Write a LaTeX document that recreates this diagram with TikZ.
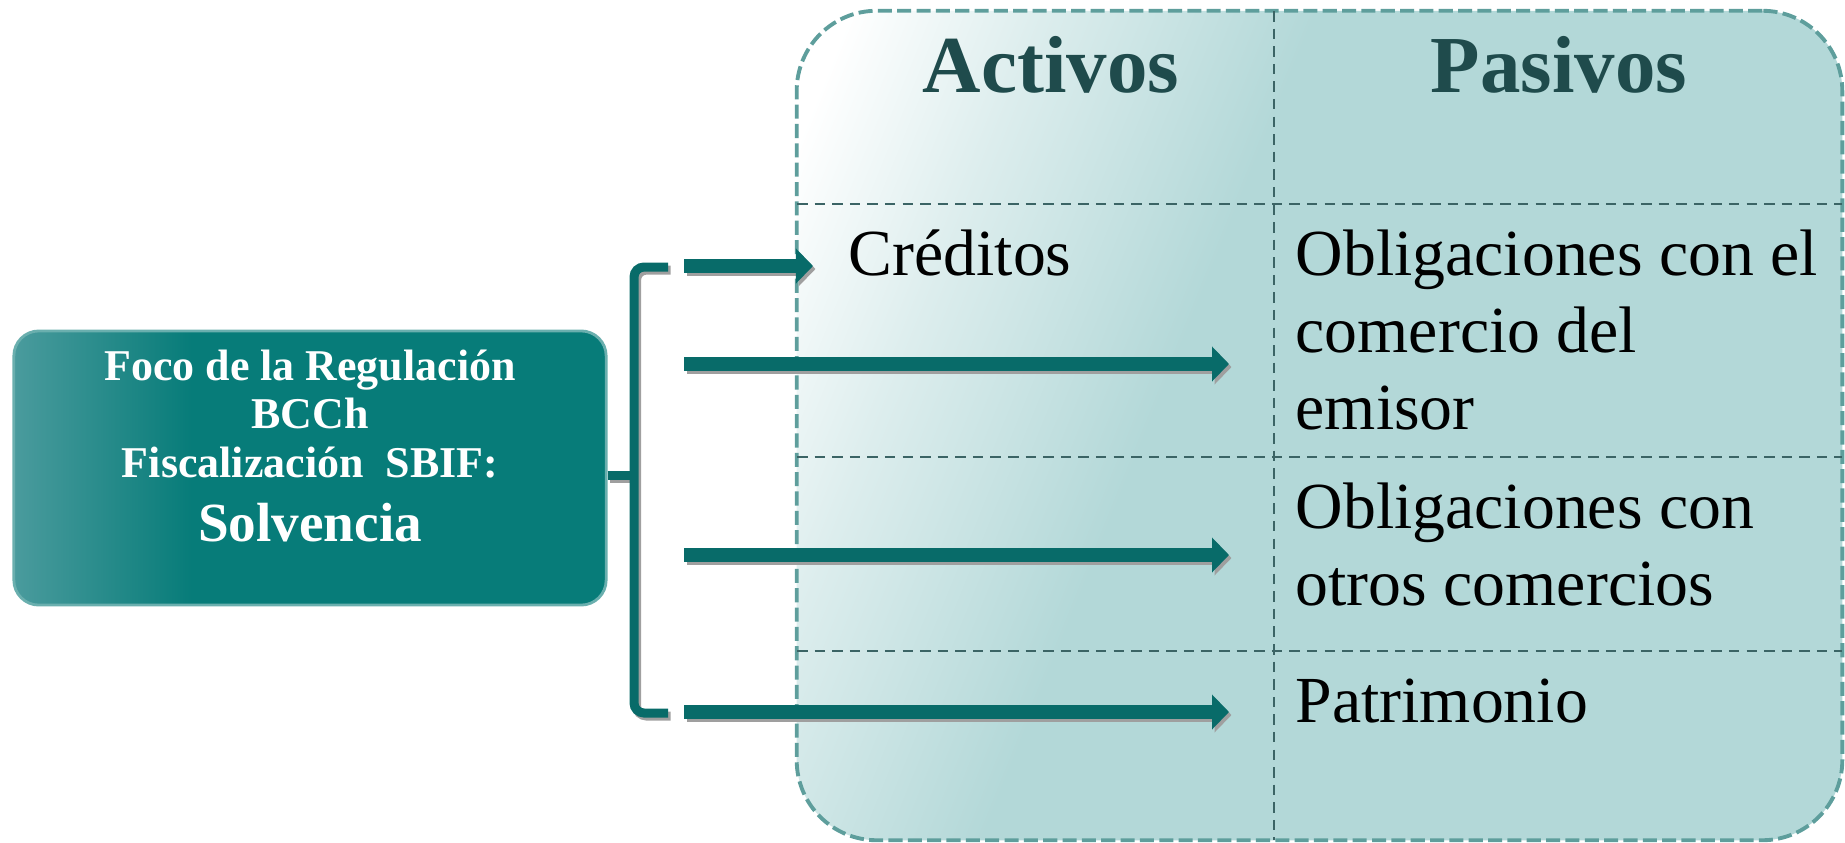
\documentclass[tikz,border=0pt]{standalone}
\usepackage{fontspec}
\setmainfont{Liberation Serif}
\usetikzlibrary{arrows.meta}
\definecolor{verde}{HTML}{086B69}
\definecolor{verdeclaro}{HTML}{4A9B9D}
\definecolor{verdebox}{HTML}{077C79}
\definecolor{bordefoco}{HTML}{6AAFAE}
\definecolor{celda}{HTML}{B3D8D8}
\definecolor{borde}{HTML}{5E9E9C}
\definecolor{raya}{HTML}{3B6465}
\definecolor{cabeza}{HTML}{1F4B4C}
\pgfdeclarehorizontalshading{tablasombra}{100bp}{color(0bp)=(white); color(20bp)=(white); color(29bp)=(celda!45!white); color(42bp)=(celda); color(100bp)=(celda)}
\pgfdeclarehorizontalshading{focosombra}{100bp}{color(0bp)=(verdeclaro); color(25bp)=(verdeclaro); color(40bp)=(verdebox); color(100bp)=(verdebox)}

\begin{document}
\begin{tikzpicture}[x=0.01cm,y=-0.01cm,
    flecha/.style={line width=0.14cm,draw=verde,-{Triangle[length=0.17cm,width=0.34cm]}},
    sombra/.style={draw=gray!75,transform canvas={xshift=0.025cm,yshift=-0.03cm}},
    llave/.style={line width=0.09cm,draw=verde,rounded corners=0.1cm},
    raya/.style={draw=raya,line width=0.5pt,dash pattern=on 3pt off 2pt},
    celda/.style={inner sep=0pt,font=\fontsize{18.7}{21.9}\selectfont,align=left},
    cabeza/.style={inner sep=0pt,anchor=base,text=cabeza,font=\bfseries\fontsize{23}{27}\selectfont}]
    \useasboundingbox (0,0) rectangle (1845,842);
    % balance
    \node[draw=borde,line width=1.1pt,dash pattern=on 4pt off 1.5pt,rounded corners=0.8cm,
        shade,shading=tablasombra,shading angle=-22,minimum width=10.45cm,minimum height=8.29cm,inner sep=0pt] (tabla) at (1319.5,425.5) {};
    \draw[raya] (1274,11) -- (1274,840);
    \foreach \y in {204,457,651} \draw[raya] (797,\y) -- (1842,\y);
    \node[cabeza] (activos) at (1051,92) {Activos};
    \node[cabeza] (pasivos) at (1559,92) {Pasivos};
    \node[celda,anchor=base west] (creditos) at (848,275) {Créditos};
    \node[celda,anchor=north west] (emisor) at (1295,229.5) {Obligaciones con el\\comercio del\\emisor};
    \node[celda,anchor=north west] (otros) at (1295,482.5) {Obligaciones con\\otros comercios};
    \node[celda,anchor=base west] (patrimonio) at (1295,722) {Patrimonio};
    % foco
    \node[draw=bordefoco,line width=0.8pt,rounded corners=0.25cm,shade,shading=focosombra,
        minimum width=5.92cm,minimum height=2.74cm] (foco) at (310,468) {};
    \node[text=white,align=center,font=\bfseries\fontsize{12.5}{13.8}\selectfont] (focotexto) at (310,446)
        {Foco de la Regulación\\BCCh\\Fiscalización\ \ SBIF:\\[4.5pt]\fontsize{15.7}{18}\selectfont Solvencia};
    % llave y flechas
    \coordinate (ll1) at (668,267);
    \coordinate (ll2) at (668,713);
    \coordinate (llx) at (634,475);
    \coordinate (a1) at (684,266); \coordinate (b1) at (813,266);
    \coordinate (a2) at (684,364); \coordinate (b2) at (1229,364);
    \coordinate (a3) at (684,555); \coordinate (b3) at (1229,555);
    \coordinate (a4) at (684,712); \coordinate (b4) at (1229,712);
    \draw[llave,sombra] (ll1) -- ++(-34,0) |- (ll2);
    \draw[llave,sombra] (foco.east |- llx) -- (llx);
    \draw[llave] (ll1) -- ++(-34,0) |- (ll2);
    \draw[llave] (foco.east |- llx) -- (llx);
    \foreach \i in {1,...,4} {
        \draw[flecha,sombra] (a\i) -- (b\i);
        \draw[flecha] (a\i) -- (b\i);
    }
\end{tikzpicture}
\end{document}
